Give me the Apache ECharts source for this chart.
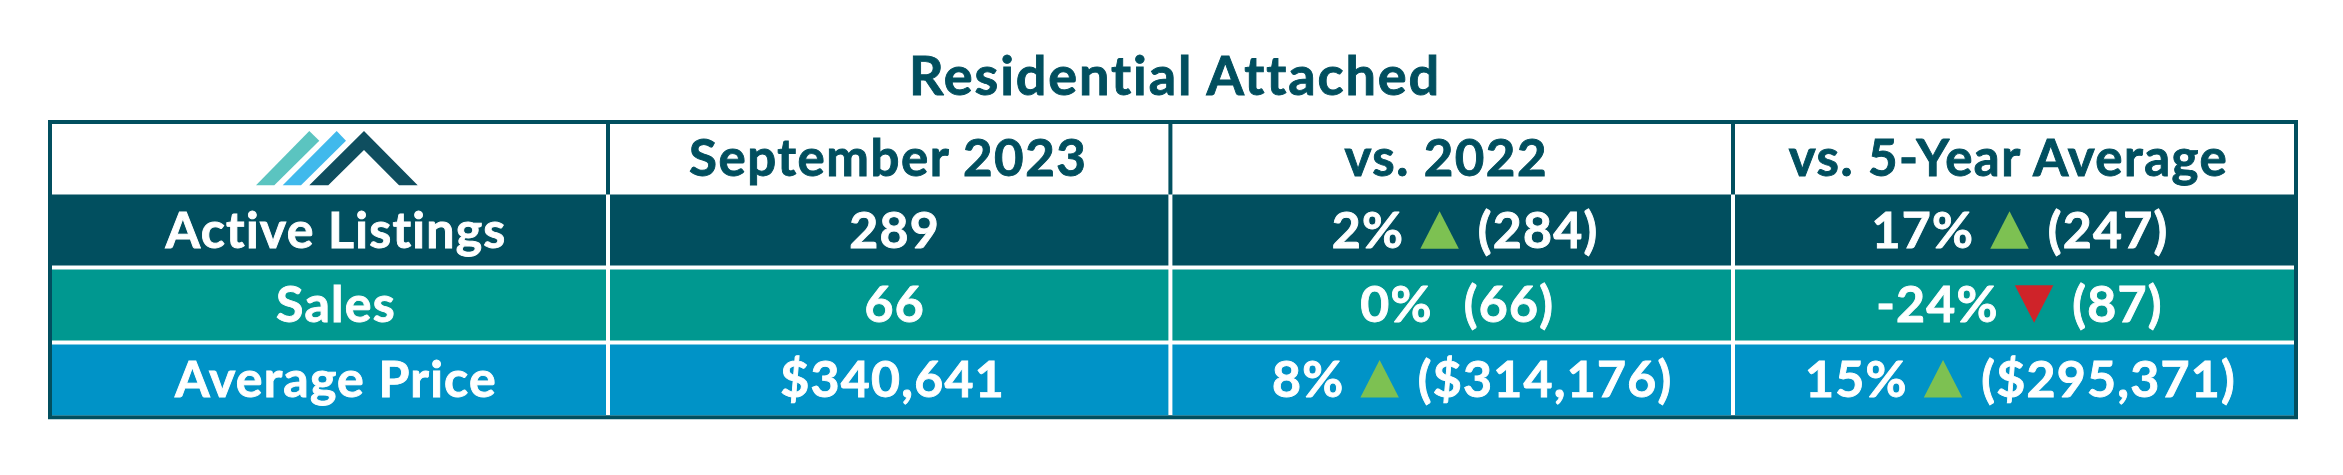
<!DOCTYPE html>
<html>
<head>
<meta charset="utf-8">
<title>Residential Attached</title>
<style>
html, body { margin: 0; background: #fff; }
#main { width: 2343px; height: 475px; }
#main text { letter-spacing: 1.25px; font-variant-ligatures: none; }
#main text[style*="51px"] { letter-spacing: 1.5px; }
#main text[style*="54px"] { letter-spacing: 1.9px; }
</style>
<script src="https://cdn.jsdelivr.net/npm/echarts@6/dist/echarts.min.js"></script>
</head>
<body>
<div id="main"></div>
<script>
var titleText = 'Residential Attached';
var columnNames = ['September 2023', 'vs. 2022', 'vs. 5-Year Average'];
var rowNames = ['Active Listings', 'Sales', 'Average Price'];
var currentValues = ['289', '66', '$340,641'];
var vs2022Change = ['2%', '0%', '8%'];
var vs2022Arrow = ['up', '', 'up'];
var vs2022Prior = ['(284)', '(66)', '($314,176)'];
var vs5YearChange = ['17%', '-24%', '15%'];
var vs5YearArrow = ['up', 'down', 'up'];
var vs5YearPrior = ['(247)', '(87)', '($295,371)'];

// layout tweaks, the source table is not quite even
var colNudge = [0, -3.5, -2.6, -1.5, 0];
var rowNudge = [0, -1.3, -2.2, -1, 0];
var cellShift = [
    [0, -1, -5.5, -6],
    [7, 5.5, 13.5, 5.5],
    [7, 5.5, 5.5, 5],
    [7, 3.5, 20.5, 6]
];
var rowColors = ['#ffffff', '#014f5f', '#009890', '#0093c7'];
var dark = '#014f5f';
var font = 'bold 50px Lato';
var headFont = 'bold 51px Lato';
var spacing = 1.25;
var textLift = 2;

var ctx = document.createElement('canvas').getContext('2d');
ctx.font = font;
ctx.fontVariantLigatures = 'none';
function textWidth(s) {
    return ctx.measureText(s).width + spacing * s.length;
}

function textEl(s, x, y, fill, align, f) {
    return {
        type: 'text',
        style: {
            text: s, x: x, y: y - textLift, fill: fill, font: f || font,
            align: align, verticalAlign: 'middle',
            stroke: fill, lineWidth: 0.9
        }
    };
}

function arrowEl(dir, x, base) {
    var w = 38.5, top = base - 36, bottom = base + 1.5;
    var pts = dir === 'up'
        ? [[x, bottom], [x + w / 2, top], [x + w, bottom]]
        : [[x, top], [x + w, top], [x + w / 2, bottom]];
    return {
        type: 'polygon',
        shape: { points: pts },
        style: { fill: dir === 'up' ? '#7dc152' : '#cf2329' }
    };
}

// change + arrow + prior value, centred as one run
function compareCell(change, arrow, prior, cx, cy) {
    var els = [];
    var w1 = textWidth(change), w2 = textWidth(prior);
    var total = arrow ? w1 + 16 + 38.5 + 19 + w2 : w1 + 31 + w2;
    var x = cx - total / 2;
    els.push(textEl(change, x, cy, '#fff', 'left'));
    x += w1;
    if (arrow) {
        els.push(arrowEl(arrow, x + 16, cy + 16.3));
        x += 16 + 38.5 + 19;
    } else {
        x += 31;
    }
    els.push(textEl(prior, x, cy, '#fff', 'left'));
    return els;
}

function renderCell(params, api) {
    var col = api.value(0), row = api.value(1);
    var c = api.coord([col, row]);
    var s = api.size([1, 1]);
    var left = c[0] - s[0] / 2 + colNudge[col];
    var right = c[0] + s[0] / 2 + colNudge[col + 1];
    var top = c[1] - s[1] / 2 + rowNudge[row];
    var bottom = c[1] + s[1] / 2 + rowNudge[row + 1];
    var cx = (left + right) / 2 + cellShift[row][col];
    var cy = (top + bottom) / 2;
    var children = [];

    if (row === 0) {
        if (col < 3) {
            children.push({
                type: 'rect',
                shape: { x: right - 2, y: top, width: 4, height: bottom - top },
                style: { fill: dark }
            });
        }
        if (col > 0) {
            children.push(textEl(columnNames[col - 1], cx, cy, dark, 'center', headFont));
        }
        return { type: 'group', children: children };
    }

    var i = row - 1;
    var insetTop = row === 1 ? 0 : 2;
    children.push({
        type: 'rect',
        shape: {
            x: left + 2, y: top + insetTop,
            width: right - left - 4, height: bottom - top - insetTop - 2
        },
        style: { fill: rowColors[row] }
    });
    cy = (top + 2 + bottom - 2) / 2;
    if (col === 0) {
        children.push(textEl(rowNames[i], cx, cy, '#fff', 'center'));
    } else if (col === 1) {
        children.push(textEl(currentValues[i], cx, cy, '#fff', 'center'));
    } else if (col === 2) {
        children = children.concat(compareCell(vs2022Change[i], vs2022Arrow[i], vs2022Prior[i], cx, cy));
    } else {
        children = children.concat(compareCell(vs5YearChange[i], vs5YearArrow[i], vs5YearPrior[i], cx, cy));
    }
    return { type: 'group', children: children };
}

var xCats = ['label'].concat(columnNames);
var yCats = ['header'].concat(rowNames);
var cells = [];
for (var r = 0; r < yCats.length; r++) {
    for (var k = 0; k < xCats.length; k++) {
        cells.push([k, r]);
    }
}

var myChart = echarts.init(document.getElementById('main'), null, { renderer: 'svg' });
myChart.setOption({
    animation: false,
    backgroundColor: '#fff',
    title: {
        text: titleText,
        left: 1170,
        top: 42,
        textAlign: 'center',
        textStyle: {
            color: dark, fontFamily: 'Lato', fontWeight: 'bold', fontSize: 54,
            textBorderColor: dark, textBorderWidth: 0.9
        }
    },
    grid: {
        show: true,
        left: 50,
        top: 122,
        width: 2246,
        height: 295.2,
        backgroundColor: '#fff',
        borderColor: dark,
        borderWidth: 4
    },
    xAxis: { type: 'category', data: xCats, show: false },
    yAxis: { type: 'category', data: yCats, inverse: true, show: false },
    series: [{
        type: 'custom',
        coordinateSystem: 'cartesian2d',
        clip: false,
        data: cells,
        renderItem: renderCell
    }],
    graphic: [
        { type: 'polygon', shape: { points: [[256, 185.3], [309.3, 131], [319.3, 140.7], [274.3, 185.3]] }, style: { fill: '#5bc4c0' }, z: 10 },
        { type: 'polygon', shape: { points: [[282.7, 185.3], [336.7, 131], [346, 140.7], [301, 185.3]] }, style: { fill: '#40b9ec' }, z: 10 },
        { type: 'polygon', shape: { points: [[309.3, 185.3], [364, 131], [417.7, 185.3], [399, 185.3], [364, 150], [328.3, 185.3]] }, style: { fill: '#0f4e5f' }, z: 10 }
    ]
});
</script>
</body>
</html>
